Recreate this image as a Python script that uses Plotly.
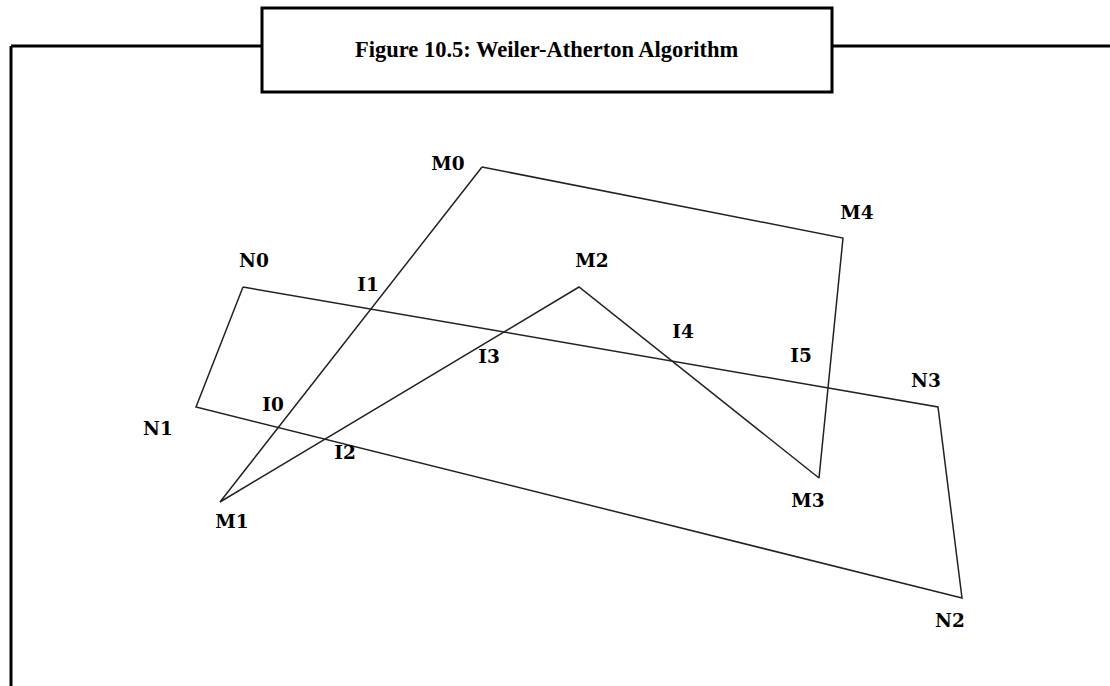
import plotly.graph_objects as go

# Polygon vertices (pixel-space coordinates of the diagram, y downward)
m_names = ["M0", "M1", "M2", "M3", "M4"]
m_x = [482, 220, 579, 819, 843]
m_y = [167, 502, 287, 478, 238]

n_names = ["N0", "N1", "N2", "N3"]
n_x = [243, 196, 962, 938]
n_y = [287, 407, 598, 407]

# Label positions
label_text = ["M0", "M1", "M2", "M3", "M4", "N0", "N1", "N2", "N3",
              "I0", "I1", "I2", "I3", "I4", "I5"]
label_x = [448, 232, 592, 808, 857, 254, 158, 950, 926,
           273, 368, 345, 489, 683, 801]
label_y = [165, 523, 262, 502, 214, 262, 430, 622, 382,
           406, 286, 454, 358, 333, 357]

title_text = "Figure 10.5: Weiler-Atherton Algorithm"

W, H = 1110, 686

fig = go.Figure()

fig.add_trace(go.Scatter(
    x=m_x + [m_x[0]], y=m_y + [m_y[0]], mode="lines",
    line=dict(color="#222222", width=1.5), hoverinfo="skip", showlegend=False))
fig.add_trace(go.Scatter(
    x=n_x + [n_x[0]], y=n_y + [n_y[0]], mode="lines",
    line=dict(color="#222222", width=1.5), hoverinfo="skip", showlegend=False))
fig.add_trace(go.Scatter(
    x=label_x, y=label_y, mode="text", text=label_text,
    textfont=dict(family="DejaVu Serif", size=18.5, color="black", weight="bold"),
    hoverinfo="skip", showlegend=False))

frame = dict(color="black", width=3)
# outer frame lines
fig.add_shape(type="line", x0=11, y0=H, x1=11, y1=46, xref="x", yref="y", line=frame)
fig.add_shape(type="line", x0=11, y0=46, x1=262, y1=46, xref="x", yref="y", line=frame)
fig.add_shape(type="line", x0=832, y0=46, x1=W, y1=46, xref="x", yref="y", line=frame)
# title box
fig.add_shape(type="rect", x0=262, y0=8, x1=832, y1=92, xref="x", yref="y",
              line=frame, fillcolor="white")

fig.add_annotation(x=547, y=49, xref="x", yref="y", text=title_text, showarrow=False,
                   font=dict(family="Liberation Serif", size=22.5, color="black", weight="bold"))

fig.update_layout(
    width=W, height=H, margin=dict(l=0, r=0, t=0, b=0),
    paper_bgcolor="white", plot_bgcolor="white",
    xaxis=dict(range=[0, W], visible=False, fixedrange=True),
    yaxis=dict(range=[H, 0], visible=False, fixedrange=True),
)

fig.write_html("out.html", config={"displayModeBar": False},
               post_script="document.body.style.margin='0';document.body.style.overflow='hidden';")
